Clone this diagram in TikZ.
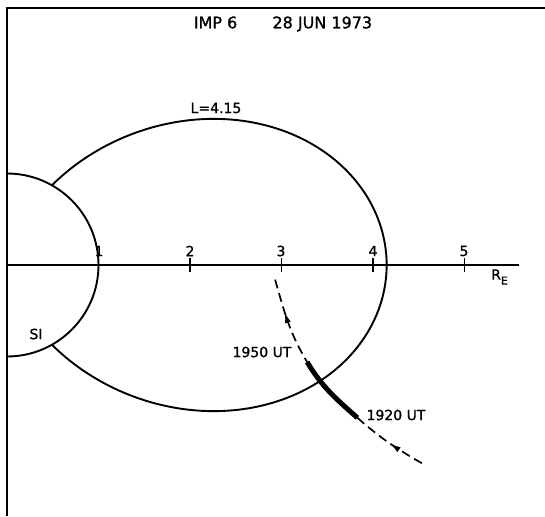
\documentclass[tikz,border=0pt]{standalone}
\usepackage{fontspec}
\setmainfont{DejaVu Sans}
\newfontfamily\lettering[FakeBold=1.2]{DejaVu Sans}
\usetikzlibrary{arrows.meta,decorations.markings}
\tikzset{
  frameline/.style={line width=1.8pt},
  curveline/.style={line width=1.9pt},
  trajdash/.style={line width=1.7pt, dash pattern=on 9pt off 5pt},
  trajthick/.style={line width=5pt},
  lbl/.style={inner sep=0pt, font=\lettering\fontsize{14}{16}\selectfont},
  ttl/.style={inner sep=0pt, font=\lettering\fontsize{16}{18}\selectfont},
  backarrow/.style={postaction={decorate}, decoration={markings,
      mark=at position #1 with {\arrowreversed{Latex[length=11pt,width=6pt]}}}}
}
\begin{document}
\begin{tikzpicture}[x=1pt,y=-1pt]
\useasboundingbox (0,0) rectangle (545,516);
% frame
\coordinate (tl) at (7,8);
\coordinate (tr) at (545,8);
\coordinate (bl) at (7,516);
\draw[frameline] (tr) -- (tl) -- (bl);
% axis
\coordinate (ax0) at (7,265);
\coordinate (ax1) at (519,265);
\draw[frameline] (ax0) -- (ax1);
\begin{scope}[shift={(7,265)}, x=91.5pt, y=91.5pt]
  % ticks
  \foreach \k in {1,...,5}{
    \coordinate (t\k a) at (\k,0.077);
    \coordinate (t\k b) at (\k,-0.077);
    \draw[frameline] (t\k a) -- (t\k b);
  }
  % Earth
  \coordinate (np) at (0,1);
  \draw[curveline] (np) arc[start angle=90, end angle=-90, radius=1];
  % field line L=4.15
  \draw[curveline] plot[domain=-60.6:60.6, samples=120, variable=\t, smooth]
    ({4.15*cos(\t)*cos(\t)*cos(\t)},{4.15*cos(\t)*cos(\t)*sin(\t)});
  % trajectory
  \coordinate (A) at (2.93,-0.16);
  \coordinate (B) at (3.28,-1.06);
  \coordinate (C) at (3.83,-1.67);
  \coordinate (D) at (4.54,-2.17);
  \draw[trajdash, backarrow=0.38] (A) to[out=-74, in=121] (B);
  \draw[trajthick] (B) to[out=-59, in=138.5] (C);
  \draw[trajdash, backarrow=0.52] (C) to[out=-41.5, in=150] (D);
\end{scope}
% labels
\node[ttl] (title) at (283,24) {IMP 6\hspace{2.2em}28 JUN 1973};
\node[lbl] (lval) at (216,108) {L=4.15};
\node[lbl] (n1) at (99,251) {1};
\node[lbl] (n2) at (190,251) {2};
\node[lbl] (n3) at (281,251) {3};
\node[lbl] (n4) at (373,251) {4};
\node[lbl] (n5) at (464,251) {5};
\node[lbl, anchor=west] (re) at (491,277) {R\raisebox{-5pt}{\fontsize{11}{12}\selectfont E}};
\node[lbl] (si) at (36,334) {SI};
\node[lbl] (t1950) at (262,352) {1950 UT};
\node[lbl] (t1920) at (396,415) {1920 UT};
\end{tikzpicture}
\end{document}
